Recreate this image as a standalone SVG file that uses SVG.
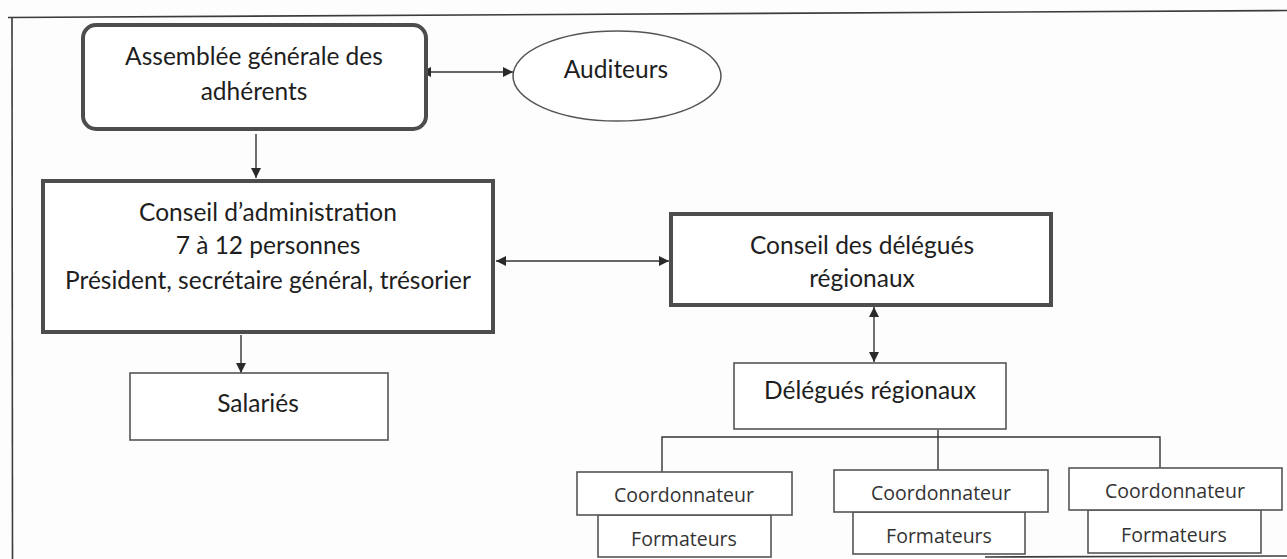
<svg xmlns="http://www.w3.org/2000/svg" width="1287" height="559" viewBox="0 0 1287 559">
<style>
.bg{fill:#fdfdfd}
.frame{fill:none;stroke:#3c3c3c;stroke-width:1.6}
.thick{fill:#fff;stroke:#4d4d4d;stroke-width:4}
.thin{fill:#fff;stroke:#555;stroke-width:1.6}
.line{fill:none;stroke:#333;stroke-width:1.4}
.t{font-family:Lato,"Liberation Sans",sans-serif;font-size:24.5px;fill:#1e1e1e;text-anchor:middle}
.s{font-family:"Open Sans","Liberation Sans",sans-serif;font-size:19.5px;fill:#333;text-anchor:middle}
</style>
<defs>
<marker id="ah" viewBox="0 0 10 10" refX="10" refY="5" markerWidth="10" markerHeight="10" markerUnits="userSpaceOnUse" orient="auto-start-reverse">
<path d="M0,0 L10,5 L0,10 Z" fill="#2a2a2a"/>
</marker>
</defs>
<rect class="bg" x="0" y="0" width="1287" height="559"/>
<g id="frame">
<path class="frame" d="M8,17.5 L1287,10.5"/>
<path class="frame" d="M12,17 L12.5,559"/>
<path class="frame" d="M985,557 L1287,556"/>
</g>
<g id="connectors">
<line class="line" x1="421" y1="72" x2="513" y2="72" marker-start="url(#ah)" marker-end="url(#ah)"/>
<line class="line" x1="256" y1="134" x2="256" y2="178" marker-end="url(#ah)"/>
<line class="line" x1="496" y1="261" x2="669" y2="261" marker-start="url(#ah)" marker-end="url(#ah)"/>
<line class="line" x1="241" y1="335" x2="241" y2="373" marker-end="url(#ah)"/>
<line class="line" x1="874" y1="307" x2="874" y2="362" marker-start="url(#ah)" marker-end="url(#ah)"/>
<path class="line" d="M938,430 V437 M662,472 V437 H1160 V468 M938,437 V470"/>
</g>
<g id="assemblee">
<rect class="thick" x="83" y="25" width="343" height="104" rx="13"/>
<text class="t" x="254" y="65">Assemblée générale des</text>
<text class="t" x="254" y="100">adhérents</text>
</g>
<g id="auditeurs">
<ellipse cx="617" cy="76" rx="104" ry="45" fill="#fff" stroke="#555" stroke-width="1.5"/>
<text class="t" x="616" y="78">Auditeurs</text>
</g>
<g id="conseil-admin">
<rect class="thick" x="43" y="181" width="450" height="151"/>
<text class="t" x="268" y="221">Conseil d’administration</text>
<text class="t" x="268" y="254">7 à 12 personnes</text>
<text class="t" x="268" y="289">Président, secrétaire général, trésorier</text>
</g>
<g id="salaries">
<rect class="thin" x="130" y="373" width="258" height="67"/>
<text class="t" x="258" y="412">Salariés</text>
</g>
<g id="conseil-delegues">
<rect class="thick" x="671" y="214" width="380" height="91"/>
<text class="t" x="862" y="254">Conseil des délégués</text>
<text class="t" x="862" y="287">régionaux</text>
</g>
<g id="delegues">
<rect class="thin" x="734" y="363" width="272" height="66"/>
<text class="t" x="870" y="399">Délégués régionaux</text>
</g>
<g id="coord1">
<rect class="thin" x="598" y="515" width="173" height="42"/>
<rect class="thin" x="577" y="472" width="215" height="43"/>
<text class="s" x="684" y="502">Coordonnateur</text>
<text class="s" x="684" y="546">Formateurs</text>
</g>
<g id="coord2">
<rect class="thin" x="853" y="512" width="172" height="42"/>
<rect class="thin" x="834" y="470" width="214" height="42"/>
<text class="s" x="941" y="500">Coordonnateur</text>
<text class="s" x="939" y="543">Formateurs</text>
</g>
<g id="coord3">
<rect class="thin" x="1088" y="510" width="173" height="43"/>
<rect class="thin" x="1069" y="468" width="213" height="42"/>
<text class="s" x="1175" y="498">Coordonnateur</text>
<text class="s" x="1174" y="542">Formateurs</text>
</g>
</svg>
